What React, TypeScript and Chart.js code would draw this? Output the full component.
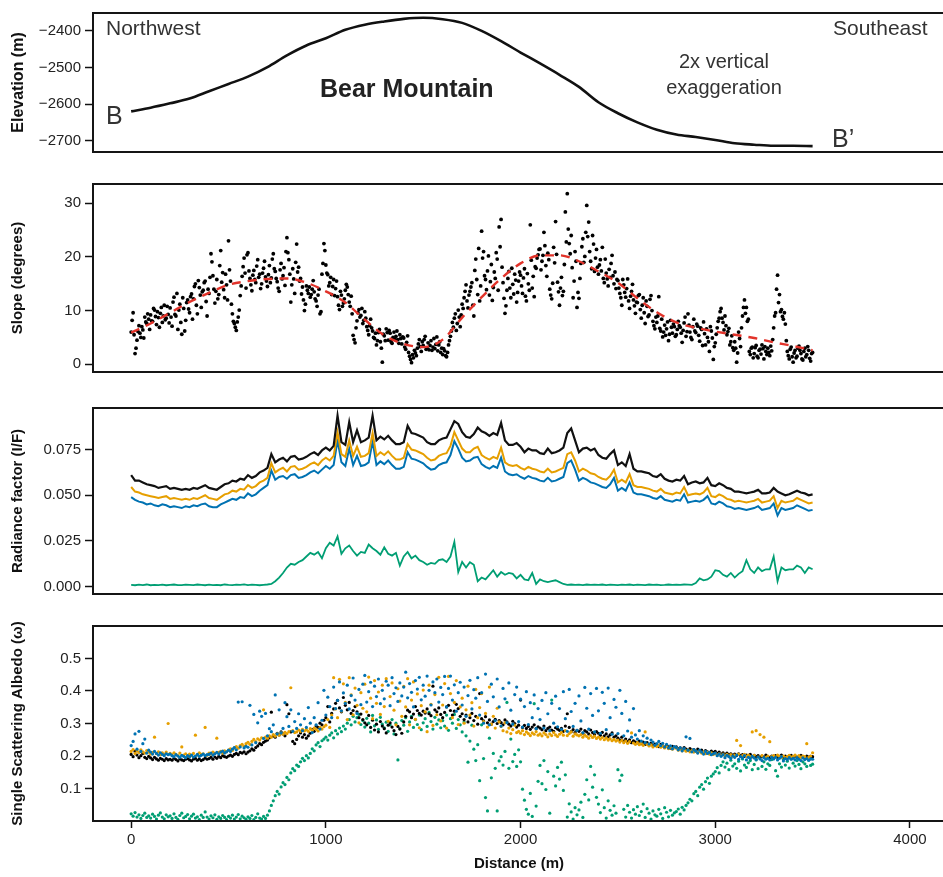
import React, { useEffect, useRef } from "react";
import { Chart, registerables } from "chart.js";
Chart.register(...registerables);

const FONT = "'Liberation Sans', Arial, Helvetica, sans-serif";

// ---------- DATA ----------
const X_MIN = -196;
const X_MAX = 4180;
const distanceTicks = [0, 1000, 2000, 3000, 4000];

// Elevation profile, one value every 100 m (0..3500 m)
const ELEV_STEP_M = 100;
const elevation = [
  -2620, -2610, -2598, -2585, -2565, -2545, -2525, -2499, -2467, -2440,
  -2420, -2397, -2383, -2374, -2367, -2364, -2368, -2378, -2400, -2428,
  -2459, -2489, -2520, -2553, -2595, -2625, -2650, -2670, -2683, -2690,
  -2698, -2707, -2711, -2714, -2714, -2715,
];
const elevationTicks = [-2700, -2600, -2500, -2400];

// Slope samples at 0, 10, 20 ... m
const SLOPE_STEP_M = 10;
const slope = [
  6.0, 9.6, 2.0, 4.5, 7.2, 5.0, 6.4, 8.8, 7.6, 8.4,
  9.2, 8.0, 10.1, 7.4, 8.7, 9.5, 7.8, 11.0, 8.6, 9.3,
  10.5, 7.1, 12.5, 9.0, 6.5, 11.2, 5.6, 10.4, 8.2, 12.0,
  9.6, 13.1, 12.2, 15.0, 9.4, 14.3, 10.6, 13.8, 15.5, 9.0,
  13.2, 20.6, 16.5, 11.4, 15.8, 13.0, 21.2, 17.1, 12.4, 14.8,
  23.0, 15.5, 9.4, 7.6, 6.3, 8.8, 12.8, 16.4, 19.8, 14.2,
  20.8, 16.0, 13.7, 17.5, 15.2, 19.5, 16.8, 15.0, 17.9, 16.3,
  14.5, 18.4, 16.1, 20.6, 17.3, 15.4, 13.6, 18.8, 16.5, 14.7,
  23.6, 19.5, 11.6, 17.8, 13.2, 22.4, 18.1, 16.0, 14.4, 10.0,
  14.6, 13.2, 12.5, 14.0, 13.5, 11.8, 12.9, 9.4, 16.8, 22.5,
  18.5, 16.7, 15.2, 13.0, 15.8, 14.1, 12.6, 10.2, 12.9, 11.4,
  13.8, 14.4, 11.6, 12.7, 5.4, 4.0, 8.1, 10.2, 9.1, 7.6,
  9.8, 7.0, 5.5, 8.4, 6.2, 4.8, 3.6, 5.9, 4.2, 0.4,
  5.3, 6.6, 4.5, 5.8, 3.9, 6.0, 5.2, 4.6, 5.5, 3.8,
  4.9, 2.8, 5.3, 1.5, 0.3, 1.2, 2.1, 3.0, 4.6, 2.4,
  3.5, 5.2, 3.0, 2.7, 4.4, 3.2, 2.9, 5.1, 3.6, 2.2,
  1.8, 2.5, 1.4, 3.6, 5.2, 7.8, 8.6, 6.3, 10.1, 7.0,
  11.2, 12.4, 14.8, 10.5, 13.6, 15.2, 9.0, 19.6, 13.0, 11.8,
  24.8, 21.0, 15.8, 17.4, 12.9, 18.6, 14.3, 16.0, 19.6, 25.6,
  27.0, 15.2, 9.5, 13.8, 17.3, 12.4, 14.9, 16.8, 11.6, 15.5,
  16.6, 13.2, 17.8, 11.8, 15.0, 26.0, 14.2, 12.6, 17.9, 20.4,
  21.5, 19.2, 24.6, 18.4, 20.7, 14.0, 12.2, 21.8, 26.6, 15.3,
  11.0, 16.2, 13.6, 28.4, 31.8, 22.5, 24.0, 12.4, 21.0, 10.6,
  12.3, 18.8, 23.4, 20.1, 29.6, 26.5, 19.2, 24.0, 17.3, 21.4,
  16.8, 19.5, 21.8, 15.2, 17.0, 14.6, 16.2, 20.3, 15.0, 14.1,
  15.6, 13.2, 11.0, 14.8, 12.5, 15.9, 10.4, 13.6, 12.0, 9.5,
  11.5, 13.0, 8.6, 12.4, 7.6, 10.8, 9.2, 12.8, 8.0, 6.6,
  7.8, 12.6, 6.2, 5.1, 7.3, 6.6, 4.4, 8.2, 5.8, 7.0,
  5.5, 8.0, 6.9, 4.1, 7.7, 5.2, 9.4, 6.0, 4.6, 8.4,
  5.9, 7.1, 4.3, 6.5, 7.9, 3.6, 5.0, 2.4, 6.2, 0.9,
  4.0, 6.8, 8.6, 10.4, 7.8, 9.0, 5.5, 6.7, 4.2, 3.1,
  4.2, 0.4, 6.0, 3.3, 9.0, 12.0, 10.6, 8.4, 1.8, 3.2,
  2.0, 3.5, 1.2, 2.8, 3.6, 1.0, 2.4, 3.0, 1.6, 2.5,
  6.8, 9.6, 16.6, 13.0, 10.2, 8.4, 7.5, 2.4, 1.0, 3.2,
  0.4, 2.6, 1.5, 3.4, 2.0, 0.8, 3.0, 1.8, 2.6, 0.6,
  2.2,
];
// Slope samples at 5, 15, 25 ... m
const SLOPE_B_OFFSET_M = 5;
const slopeB = [
  8.2, 5.5, 3.0, 6.1, 5.8, 7.0, 4.9, 7.9, 9.4, 6.5,
  8.1, 10.4, 8.9, 9.8, 6.9, 10.6, 9.0, 8.3, 10.8, 7.7,
  8.8, 11.6, 9.3, 13.2, 10.1, 7.8, 12.4, 6.2, 11.5, 10.3,
  12.6, 8.4, 14.5, 11.0, 15.6, 12.9, 13.5, 15.2, 11.7, 14.0,
  16.2, 19.1, 14.0, 13.6, 12.2, 18.4, 15.3, 13.9, 16.8, 12.0,
  17.6, 11.2, 8.0, 6.9, 7.9, 10.1, 14.6, 18.2, 17.0, 20.4,
  17.4, 14.8, 16.6, 15.8, 18.3, 16.2, 14.1, 17.0, 19.2, 15.5,
  16.7, 15.2, 19.6, 17.8, 16.0, 14.2, 17.6, 15.9, 18.0, 21.0,
  20.8, 16.8, 14.8, 15.9, 19.0, 17.2, 15.5, 13.1, 12.0, 11.2,
  13.8, 14.4, 13.0, 15.6, 12.2, 10.8, 14.0, 9.8, 18.8, 21.2,
  17.0, 14.6, 16.2, 14.5, 12.8, 15.5, 11.0, 13.6, 10.8, 12.2,
  14.9, 13.0, 10.8, 9.4, 4.6, 6.8, 9.6, 8.8, 10.4, 8.2,
  8.6, 6.3, 7.2, 6.8, 5.0, 5.8, 4.4, 6.5, 3.0, 5.6,
  4.4, 5.9, 6.3, 4.2, 5.0, 4.7, 6.2, 3.9, 4.8, 5.1,
  3.2, 4.1, 2.2, 0.9, 1.8, 2.6, 1.6, 3.8, 3.3, 4.2,
  4.6, 2.8, 4.0, 3.5, 2.6, 4.8, 3.7, 2.5, 4.2, 3.0,
  2.9, 1.6, 2.2, 4.4, 6.2, 6.9, 9.4, 7.6, 8.8, 9.2,
  10.4, 13.6, 11.8, 12.9, 14.4, 11.0, 17.5, 15.8, 21.6, 14.6,
  19.8, 16.5, 13.9, 20.2, 15.4, 11.9, 17.2, 20.8, 13.8, 21.9,
  18.1, 12.3, 10.9, 16.0, 14.2, 17.9, 13.1, 15.7, 13.4, 17.2,
  14.6, 16.1, 12.7, 16.9, 13.8, 19.4, 16.4, 18.2, 19.8, 21.4,
  17.6, 20.3, 22.1, 16.4, 19.5, 12.9, 15.1, 18.9, 20.5, 13.5,
  14.2, 12.8, 18.6, 22.8, 25.2, 20.6, 18.0, 15.5, 19.2, 13.4,
  16.0, 21.9, 19.0, 24.6, 23.8, 21.0, 17.8, 22.4, 19.8, 18.1,
  18.5, 17.4, 16.0, 19.6, 15.9, 17.7, 18.8, 16.5, 17.2, 15.8,
  14.2, 12.4, 15.8, 13.4, 14.1, 11.8, 12.7, 14.9, 10.9, 11.6,
  12.8, 10.2, 11.0, 9.6, 11.8, 8.9, 12.1, 10.0, 7.2, 8.8,
  9.0, 6.7, 8.4, 6.0, 5.4, 7.9, 5.6, 6.9, 7.5, 5.2,
  6.5, 7.2, 5.8, 6.3, 8.8, 6.1, 7.3, 5.0, 7.0, 6.2,
  7.5, 5.4, 6.8, 3.5, 5.7, 6.6, 4.2, 7.0, 4.9, 3.3,
  5.6, 8.0, 9.8, 8.6, 6.4, 7.2, 6.1, 3.6, 5.3, 2.6,
  3.0, 2.1, 4.8, 6.8, 10.6, 9.5, 8.0, 2.4, 3.0, 1.2,
  3.1, 1.5, 2.6, 1.9, 2.9, 3.3, 1.8, 2.2, 3.4, 4.6,
  9.0, 14.0, 11.5, 9.8, 8.9, 9.6, 4.4, 1.6, 2.8, 1.4,
  2.1, 1.2, 3.0, 2.6, 1.0, 2.4, 1.4, 3.3, 1.1, 2.0,
];
// Smoothed slope trend, every 100 m
const TREND_STEP_M = 100;
const slopeTrend = [
  5.9, 7.6, 9.6, 11.6, 13.3, 14.8, 15.5, 15.9, 16.0, 15.2,
  13.6, 11.5, 8.3, 5.4, 3.8, 3.2, 4.6, 8.7, 12.5, 16.0,
  18.8, 20.3, 20.3, 19.2, 17.3, 15.2, 12.3, 9.7, 7.8, 6.8,
  6.1, 5.5, 4.9, 4.1, 3.4, 2.6,
];
const slopeTicks = [0, 10, 20, 30];

// Radiance factor, every 20 m
const RAD_STEP_M = 20;
const radianceBlack = [
  0.061, 0.058, 0.058, 0.057, 0.056, 0.0555, 0.055, 0.054, 0.0545, 0.055,
  0.0535, 0.054, 0.0535, 0.053, 0.0535, 0.053, 0.054, 0.0535, 0.0545, 0.0555,
  0.054, 0.0535, 0.053, 0.0545, 0.056, 0.0565, 0.058, 0.0575, 0.059, 0.0585,
  0.061, 0.0595, 0.0605, 0.0625, 0.0635, 0.065, 0.0725, 0.068, 0.0695, 0.0705,
  0.0685, 0.071, 0.0715, 0.0695, 0.07, 0.071, 0.0725, 0.0735, 0.072, 0.0745,
  0.076, 0.0745, 0.077, 0.0935, 0.079, 0.0775, 0.09, 0.079, 0.0855, 0.079,
  0.08, 0.0815, 0.0935, 0.08, 0.082, 0.0805, 0.0825, 0.08, 0.078, 0.078,
  0.079, 0.088, 0.084, 0.0835, 0.0825, 0.0815, 0.079, 0.078, 0.078, 0.08,
  0.081, 0.0815, 0.086, 0.0905, 0.089, 0.0845, 0.082, 0.0814, 0.0835, 0.087,
  0.085, 0.084, 0.0825, 0.084, 0.083, 0.0895, 0.08, 0.0775, 0.0775, 0.0785,
  0.0765, 0.0735, 0.0755, 0.0745, 0.0745, 0.073, 0.0725, 0.0755, 0.073, 0.0735,
  0.0745, 0.076, 0.084, 0.0865, 0.08, 0.0735, 0.0755, 0.076, 0.0745, 0.0755,
  0.072, 0.0705, 0.07, 0.0725, 0.0745, 0.0665, 0.068, 0.066, 0.0725, 0.0645,
  0.063, 0.063, 0.0625, 0.062, 0.0605, 0.06, 0.0615, 0.059, 0.058, 0.0575,
  0.0585, 0.058, 0.0605, 0.056, 0.057, 0.0575, 0.0565, 0.057, 0.0595, 0.0555,
  0.055, 0.0565, 0.0555, 0.054, 0.0535, 0.052, 0.052, 0.0515, 0.051, 0.0515,
  0.052, 0.053, 0.051, 0.051, 0.0515, 0.054, 0.052, 0.051, 0.05, 0.0505,
  0.0515, 0.0525, 0.0515, 0.051, 0.05, 0.0505,
];
const radianceOrange = [
  0.0545, 0.052, 0.0515, 0.0505, 0.05, 0.0495, 0.049, 0.0485, 0.049, 0.0495,
  0.048, 0.0485, 0.048, 0.0475, 0.048, 0.0475, 0.0485, 0.048, 0.049, 0.05,
  0.0485, 0.048, 0.0475, 0.049, 0.0505, 0.051, 0.0525, 0.052, 0.0535, 0.053,
  0.0555, 0.054, 0.055, 0.057, 0.058, 0.0595, 0.0675, 0.0625, 0.064, 0.065,
  0.063, 0.0655, 0.066, 0.064, 0.0645, 0.0655, 0.067, 0.068, 0.0665, 0.069,
  0.0705, 0.069, 0.0715, 0.0845, 0.0725, 0.071, 0.08, 0.0715, 0.0765, 0.071,
  0.0715, 0.073, 0.084, 0.0715, 0.0735, 0.072, 0.074, 0.0715, 0.0695, 0.0695,
  0.0705, 0.078, 0.075, 0.0745, 0.0735, 0.0725, 0.0705, 0.069, 0.0695, 0.0715,
  0.0725, 0.073, 0.077, 0.0845, 0.08, 0.0755, 0.0735, 0.0735, 0.0755, 0.0765,
  0.072, 0.0705, 0.0695, 0.071, 0.07, 0.076, 0.068, 0.0665, 0.066, 0.0665,
  0.065, 0.064, 0.0655, 0.0645, 0.064, 0.063, 0.0625, 0.0645, 0.0625, 0.063,
  0.064, 0.065, 0.0725, 0.0735, 0.069, 0.063, 0.0645, 0.0635, 0.062, 0.0615,
  0.06, 0.059, 0.0585, 0.0605, 0.064, 0.057, 0.0585, 0.057, 0.0615, 0.0555,
  0.0545, 0.0545, 0.054, 0.0535, 0.0525, 0.052, 0.0535, 0.0515, 0.051, 0.0505,
  0.0515, 0.051, 0.0545, 0.05, 0.0505, 0.051, 0.0505, 0.0515, 0.054, 0.0495,
  0.049, 0.0505, 0.0495, 0.048, 0.0475, 0.0465, 0.047, 0.0465, 0.046, 0.0465,
  0.047, 0.048, 0.046, 0.0465, 0.047, 0.0495, 0.043, 0.047, 0.046, 0.0465,
  0.047, 0.0485, 0.0475, 0.0465, 0.0455, 0.046,
];
const radianceBlue = [
  0.049, 0.0475, 0.0465, 0.046, 0.045, 0.0455, 0.0445, 0.044, 0.045, 0.0445,
  0.0435, 0.044, 0.0435, 0.043, 0.044, 0.0435, 0.0445, 0.044, 0.045, 0.0455,
  0.044, 0.0435, 0.0435, 0.045, 0.046, 0.047, 0.048, 0.0475, 0.049, 0.0485,
  0.051, 0.0495, 0.0505, 0.0525, 0.054, 0.0555, 0.0635, 0.0585, 0.06, 0.0605,
  0.059, 0.061, 0.0615, 0.0595, 0.06, 0.061, 0.0625, 0.0635, 0.062, 0.064,
  0.066, 0.0645, 0.0665, 0.08, 0.068, 0.066, 0.0755, 0.0665, 0.0715, 0.066,
  0.0665, 0.068, 0.0795, 0.0665, 0.0685, 0.067, 0.069, 0.0665, 0.0645, 0.0645,
  0.0655, 0.0735, 0.07, 0.0695, 0.0685, 0.0675, 0.0655, 0.064, 0.0645, 0.0665,
  0.0675, 0.068, 0.072, 0.0795, 0.0755, 0.0705, 0.0685, 0.069, 0.0705, 0.071,
  0.067, 0.0655, 0.0645, 0.066, 0.065, 0.0705, 0.063, 0.0615, 0.061, 0.0615,
  0.06, 0.059, 0.0605, 0.0595, 0.059, 0.058, 0.0575, 0.0595, 0.0575, 0.058,
  0.059, 0.06, 0.0675, 0.069, 0.064, 0.058, 0.0595, 0.0585, 0.057, 0.0565,
  0.0555, 0.0545, 0.054, 0.056, 0.0595, 0.0525, 0.054, 0.0525, 0.057, 0.0515,
  0.0505, 0.0505, 0.05, 0.0495, 0.0485, 0.048, 0.0495, 0.0475, 0.047, 0.0465,
  0.0475, 0.047, 0.0505, 0.046, 0.0465, 0.047, 0.0465, 0.0475, 0.0495, 0.0455,
  0.045, 0.0465, 0.0455, 0.044, 0.0435, 0.0425, 0.043, 0.0425, 0.042, 0.0425,
  0.043, 0.044, 0.042, 0.0425, 0.043, 0.0455, 0.039, 0.043, 0.042, 0.0425,
  0.043, 0.0445, 0.0435, 0.0425, 0.0415, 0.042,
];
const radianceGreen = [
  0.001, 0.0008, 0.0011, 0.0009, 0.0012, 0.0008, 0.001, 0.0009, 0.0011, 0.0008,
  0.001, 0.0012, 0.0009, 0.0008, 0.0011, 0.001, 0.0009, 0.0012, 0.001, 0.0008,
  0.0011, 0.0009, 0.001, 0.0008, 0.0012, 0.001, 0.0009, 0.0011, 0.001, 0.0013,
  0.0009, 0.0011, 0.001, 0.0008, 0.001, 0.0012, 0.0015, 0.003, 0.005, 0.0075,
  0.0105, 0.0125, 0.012, 0.0135, 0.0145, 0.0165, 0.0185, 0.0175, 0.019, 0.0155,
  0.021, 0.024, 0.0225, 0.0275, 0.018, 0.021, 0.0225, 0.0195, 0.017, 0.019,
  0.0185, 0.023, 0.021, 0.0195, 0.0175, 0.0215, 0.018, 0.017, 0.0185, 0.0115,
  0.0165, 0.019, 0.0155, 0.017, 0.0145, 0.0135, 0.012, 0.013, 0.0125, 0.0145,
  0.015, 0.0135, 0.0165, 0.0245, 0.008, 0.0135, 0.0105, 0.0134, 0.012, 0.003,
  0.005, 0.004, 0.0065, 0.009, 0.0055, 0.008, 0.0065, 0.0075, 0.007, 0.0045,
  0.0065, 0.004, 0.0035, 0.0075, 0.0015, 0.004, 0.003, 0.0025, 0.003, 0.0035,
  0.0025, 0.0015, 0.001, 0.0012, 0.001, 0.0011, 0.0009, 0.0012, 0.001, 0.0011,
  0.001, 0.0012, 0.0009, 0.0011, 0.001, 0.0009, 0.0011, 0.001, 0.0012, 0.0009,
  0.0011, 0.001, 0.0009, 0.0012, 0.001, 0.0011, 0.0009, 0.001, 0.0012, 0.001,
  0.0011, 0.001, 0.0012, 0.0011, 0.001, 0.002, 0.0045, 0.0035, 0.004, 0.0055,
  0.009, 0.0085, 0.0065, 0.0055, 0.0075, 0.005, 0.007, 0.0085, 0.0145, 0.0095,
  0.0075, 0.0105, 0.0085, 0.0095, 0.0095, 0.0165, 0.003, 0.0105, 0.009, 0.0095,
  0.0095, 0.0115, 0.0105, 0.0075, 0.0105, 0.0095,
];
const radianceTicks = [0, 0.025, 0.05, 0.075];

// Single scattering albedo, every 10 m
const ALB_STEP_M = 10;
const albedoBlack = [
  0.205, 0.198, 0.214, 0.203, 0.195, 0.201, 0.208, 0.196, 0.192, 0.199,
  0.194, 0.189, 0.196, 0.191, 0.187, 0.193, 0.19, 0.186, 0.192, 0.188,
  0.19, 0.187, 0.193, 0.189, 0.185, 0.191, 0.188, 0.186, 0.19, 0.192,
  0.188, 0.185, 0.19, 0.193, 0.187, 0.191, 0.186, 0.189, 0.194, 0.19,
  0.192, 0.196, 0.19, 0.197, 0.193, 0.199, 0.195, 0.201, 0.198, 0.196,
  0.2, 0.203, 0.199, 0.205, 0.208, 0.204, 0.211, 0.209, 0.213, 0.207,
  0.212, 0.216, 0.222, 0.218, 0.226, 0.231, 0.238, 0.235, 0.242, 0.246,
  0.249, 0.256, 0.335, 0.262, 0.258, 0.27, 0.265, 0.274, 0.268, 0.262,
  0.358, 0.33, 0.274, 0.245, 0.238, 0.251, 0.262, 0.271, 0.258, 0.266,
  0.255, 0.262, 0.27, 0.281, 0.276, 0.292, 0.288, 0.301, 0.296, 0.31,
  0.318, 0.352, 0.305, 0.331, 0.345, 0.362, 0.371, 0.348, 0.336, 0.38,
  0.356, 0.342, 0.365, 0.331, 0.34, 0.352, 0.336, 0.318, 0.329, 0.312,
  0.302, 0.296, 0.325, 0.288, 0.31, 0.28, 0.298, 0.274, 0.306, 0.292,
  0.284, 0.271, 0.295, 0.302, 0.289, 0.278, 0.266, 0.291, 0.283, 0.27,
  0.305, 0.322, 0.341, 0.336, 0.318, 0.329, 0.352, 0.34, 0.331, 0.326,
  0.338, 0.332, 0.345, 0.33, 0.324, 0.415, 0.342, 0.336, 0.348, 0.328,
  0.318, 0.334, 0.351, 0.356, 0.34, 0.326, 0.338, 0.359, 0.346, 0.322,
  0.33, 0.312, 0.326, 0.305, 0.318, 0.331, 0.309, 0.322, 0.298, 0.392,
  0.315, 0.308, 0.321, 0.302, 0.311, 0.298, 0.306, 0.313, 0.3, 0.309,
  0.303, 0.296, 0.311, 0.305, 0.298, 0.292, 0.307, 0.3, 0.289, 0.295,
  0.372, 0.288, 0.294, 0.285, 0.291, 0.282, 0.289, 0.296, 0.284, 0.29,
  0.286, 0.281, 0.292, 0.278, 0.285, 0.289, 0.28, 0.276, 0.287, 0.283,
  0.279, 0.285, 0.276, 0.292, 0.33, 0.288, 0.275, 0.281, 0.272, 0.279,
  0.276, 0.283, 0.27, 0.278, 0.274, 0.268, 0.28, 0.272, 0.266, 0.275,
  0.27, 0.264, 0.273, 0.262, 0.268, 0.259, 0.265, 0.271, 0.258, 0.262,
  0.255, 0.249, 0.258, 0.246, 0.252, 0.244, 0.25, 0.241, 0.247, 0.243,
  0.24, 0.246, 0.238, 0.243, 0.236, 0.241, 0.234, 0.239, 0.232, 0.237,
  0.235, 0.229, 0.236, 0.231, 0.227, 0.233, 0.228, 0.224, 0.23, 0.226,
  0.228, 0.222, 0.225, 0.219, 0.226, 0.221, 0.217, 0.223, 0.218, 0.22,
  0.216, 0.221, 0.214, 0.218, 0.212, 0.217, 0.213, 0.209, 0.215, 0.211,
  0.214, 0.208, 0.212, 0.206, 0.21, 0.205, 0.209, 0.204, 0.207, 0.203,
  0.206, 0.202, 0.207, 0.201, 0.204, 0.199, 0.203, 0.2, 0.205, 0.198,
  0.202, 0.198, 0.201, 0.196, 0.2, 0.197, 0.203, 0.199, 0.195, 0.2,
  0.198, 0.201, 0.196, 0.199, 0.203, 0.197, 0.2, 0.195, 0.198, 0.202,
  0.197, 0.2, 0.196, 0.199, 0.202, 0.198, 0.195, 0.2, 0.197, 0.199,
  0.198,
];
const albedoBlue = [
  0.232, 0.245, 0.268, 0.221, 0.276, 0.214, 0.238, 0.252, 0.209, 0.218,
  0.212, 0.206, 0.214, 0.208, 0.203, 0.21, 0.205, 0.201, 0.207, 0.204,
  0.206, 0.201, 0.198, 0.204, 0.2, 0.196, 0.202, 0.199, 0.195, 0.201,
  0.198, 0.203, 0.197, 0.2, 0.205, 0.199, 0.202, 0.206, 0.201, 0.204,
  0.205, 0.209, 0.203, 0.207, 0.211, 0.206, 0.212, 0.215, 0.209, 0.213,
  0.218, 0.214, 0.221, 0.226, 0.219, 0.366, 0.228, 0.367, 0.225, 0.23,
  0.227, 0.356, 0.234, 0.328, 0.241, 0.302, 0.338, 0.322, 0.254, 0.331,
  0.262, 0.284, 0.275, 0.296, 0.388, 0.268, 0.342, 0.271, 0.285, 0.364,
  0.321, 0.291, 0.342, 0.276, 0.306, 0.285, 0.33, 0.296, 0.278, 0.315,
  0.288, 0.349, 0.301, 0.272, 0.318, 0.296, 0.364, 0.283, 0.31, 0.402,
  0.326, 0.381, 0.352, 0.318, 0.412, 0.346, 0.371, 0.428, 0.339, 0.394,
  0.362, 0.418, 0.345, 0.386, 0.44, 0.372, 0.331, 0.405, 0.358, 0.421,
  0.448, 0.366, 0.398, 0.427, 0.352, 0.415, 0.383, 0.437, 0.361, 0.402,
  0.376, 0.43, 0.418, 0.355, 0.441, 0.392, 0.41, 0.368, 0.425, 0.385,
  0.412, 0.458, 0.379, 0.423, 0.396, 0.351, 0.432, 0.406, 0.442, 0.373,
  0.418, 0.384, 0.446, 0.402, 0.357, 0.428, 0.395, 0.437, 0.366, 0.411,
  0.389, 0.445, 0.351, 0.408, 0.446, 0.372, 0.419, 0.338, 0.395, 0.427,
  0.357, 0.412, 0.322, 0.386, 0.433, 0.345, 0.404, 0.378, 0.441, 0.326,
  0.395, 0.301, 0.452, 0.368, 0.296, 0.421, 0.382, 0.309, 0.437, 0.351,
  0.292, 0.408, 0.376, 0.303, 0.425, 0.341, 0.298, 0.389, 0.412, 0.306,
  0.375, 0.289, 0.352, 0.398, 0.297, 0.364, 0.318, 0.388, 0.284, 0.346,
  0.312, 0.371, 0.286, 0.395, 0.33, 0.278, 0.362, 0.301, 0.384, 0.29,
  0.346, 0.282, 0.398, 0.315, 0.276, 0.405, 0.337, 0.291, 0.362, 0.279,
  0.385, 0.308, 0.272, 0.411, 0.347, 0.283, 0.392, 0.325, 0.274, 0.408,
  0.339, 0.27, 0.396, 0.362, 0.281, 0.409, 0.318, 0.267, 0.374, 0.35,
  0.269, 0.402, 0.331, 0.262, 0.368, 0.277, 0.311, 0.258, 0.346, 0.265,
  0.252, 0.278, 0.246, 0.262, 0.241, 0.255, 0.237, 0.249, 0.243, 0.233,
  0.238, 0.245, 0.232, 0.239, 0.228, 0.236, 0.225, 0.231, 0.222, 0.229,
  0.226, 0.219, 0.225, 0.216, 0.223, 0.259, 0.218, 0.254, 0.213, 0.22,
  0.215, 0.209, 0.218, 0.212, 0.206, 0.214, 0.208, 0.211, 0.204, 0.207,
  0.209, 0.201, 0.206, 0.199, 0.204, 0.195, 0.202, 0.198, 0.193, 0.2,
  0.196, 0.203, 0.19, 0.198, 0.194, 0.201, 0.188, 0.196, 0.192, 0.199,
  0.194, 0.189, 0.197, 0.191, 0.186, 0.195, 0.19, 0.193, 0.188, 0.196,
  0.191, 0.196, 0.188, 0.193, 0.198, 0.185, 0.192, 0.189, 0.195, 0.19,
  0.193, 0.188, 0.195, 0.19, 0.186, 0.194, 0.189, 0.192, 0.187, 0.191,
  0.19,
];
const albedoOrange = [
  0.214, 0.22, 0.208, 0.216, 0.211, 0.219, 0.213, 0.209, 0.217, 0.212,
  0.206, 0.211, 0.258, 0.207, 0.213, 0.204, 0.21, 0.206, 0.212, 0.3,
  0.208, 0.204, 0.21, 0.205, 0.201, 0.209, 0.228, 0.203, 0.207, 0.2,
  0.206, 0.201, 0.208, 0.264, 0.203, 0.21, 0.205, 0.207, 0.288, 0.202,
  0.209, 0.206, 0.212, 0.208, 0.255, 0.211, 0.214, 0.209, 0.216, 0.213,
  0.218, 0.222, 0.217, 0.225, 0.229, 0.224, 0.232, 0.236, 0.23, 0.238,
  0.242, 0.236, 0.245, 0.251, 0.244, 0.253, 0.249, 0.256, 0.342, 0.258,
  0.255, 0.262, 0.258, 0.266, 0.261, 0.268, 0.264, 0.271, 0.267, 0.273,
  0.269, 0.275, 0.41, 0.278, 0.272, 0.274, 0.28, 0.276, 0.282, 0.277,
  0.281, 0.276, 0.284, 0.279, 0.286, 0.282, 0.277, 0.288, 0.283, 0.29,
  0.295, 0.312, 0.288, 0.326, 0.441, 0.345, 0.318, 0.436, 0.338, 0.422,
  0.365, 0.312, 0.441, 0.388, 0.327, 0.409, 0.356, 0.302, 0.395, 0.347,
  0.421, 0.336, 0.443, 0.378, 0.315, 0.432, 0.362, 0.397, 0.328, 0.418,
  0.352, 0.438, 0.307, 0.383, 0.425, 0.341, 0.296, 0.407, 0.369, 0.322,
  0.414, 0.351, 0.438, 0.296, 0.372, 0.428, 0.313, 0.391, 0.287, 0.355,
  0.403, 0.336, 0.275, 0.418, 0.359, 0.294, 0.389, 0.327, 0.442, 0.308,
  0.357, 0.423, 0.286, 0.445, 0.392, 0.318, 0.365, 0.432, 0.297, 0.351,
  0.378, 0.301, 0.342, 0.415, 0.326, 0.364, 0.292, 0.405, 0.318, 0.349,
  0.392, 0.306, 0.331, 0.289, 0.412, 0.298, 0.322, 0.286, 0.347, 0.305,
  0.291, 0.278, 0.302, 0.274, 0.286, 0.269, 0.281, 0.295, 0.272, 0.276,
  0.27, 0.278, 0.266, 0.274, 0.269, 0.263, 0.271, 0.267, 0.275, 0.264,
  0.268, 0.262, 0.271, 0.266, 0.259, 0.268, 0.263, 0.272, 0.265, 0.26,
  0.267, 0.272, 0.264, 0.278, 0.263, 0.269, 0.274, 0.261, 0.268, 0.265,
  0.262, 0.266, 0.258, 0.264, 0.26, 0.255, 0.263, 0.257, 0.261, 0.254,
  0.258, 0.252, 0.257, 0.25, 0.255, 0.249, 0.253, 0.247, 0.251, 0.246,
  0.249, 0.243, 0.248, 0.241, 0.246, 0.239, 0.244, 0.271, 0.24, 0.236,
  0.241, 0.235, 0.239, 0.233, 0.274, 0.236, 0.231, 0.234, 0.228, 0.232,
  0.229, 0.233, 0.227, 0.231, 0.225, 0.229, 0.223, 0.227, 0.221, 0.226,
  0.224, 0.218, 0.222, 0.216, 0.22, 0.215, 0.219, 0.213, 0.217, 0.212,
  0.216, 0.21, 0.214, 0.209, 0.213, 0.207, 0.211, 0.206, 0.21, 0.205,
  0.208, 0.203, 0.207, 0.202, 0.206, 0.201, 0.205, 0.2, 0.204, 0.199,
  0.203, 0.248, 0.206, 0.232, 0.201, 0.205, 0.199, 0.203, 0.198, 0.274,
  0.202, 0.278, 0.197, 0.266, 0.201, 0.258, 0.196, 0.2, 0.244, 0.198,
  0.201, 0.197, 0.203, 0.199, 0.196, 0.2, 0.195, 0.198, 0.202, 0.197,
  0.199, 0.203, 0.197, 0.201, 0.196, 0.2, 0.198, 0.238, 0.196, 0.2,
  0.21,
];
const albedoGreen = [
  0.022, 0.015, 0.026, 0.012, 0.019, 0.008, 0.017, 0.024, 0.011, 0.016,
  0.009, 0.021, 0.014, 0.006, 0.018, 0.025, 0.012, 0.007, 0.019, 0.013,
  0.016, 0.008, 0.022, 0.011, 0.005, 0.017, 0.024, 0.01, 0.014, 0.02,
  0.007, 0.015, 0.021, 0.009, 0.013, 0.004, 0.018, 0.011, 0.028, 0.012,
  0.006, 0.016, 0.01, 0.019, 0.005, 0.013, 0.008, 0.017, 0.011, 0.004,
  0.014, 0.009, 0.018, 0.006, 0.012, 0.02, 0.007, 0.015, 0.01, 0.005,
  0.013, 0.008, 0.017, 0.004, 0.011, 0.022, 0.009, 0.006, 0.014, 0.008,
  0.018, 0.031, 0.048, 0.062, 0.078, 0.091, 0.083, 0.105, 0.118, 0.112,
  0.134, 0.127, 0.148, 0.161, 0.155, 0.172, 0.168, 0.182, 0.193, 0.186,
  0.201, 0.194, 0.208, 0.222, 0.216, 0.234, 0.241, 0.229, 0.247, 0.252,
  0.258, 0.249, 0.264, 0.271, 0.256, 0.278, 0.268, 0.286, 0.275, 0.292,
  0.283, 0.301, 0.312, 0.296, 0.322, 0.305, 0.318, 0.328, 0.297, 0.309,
  0.289, 0.316, 0.301, 0.274, 0.325, 0.293, 0.311, 0.282, 0.319, 0.298,
  0.287, 0.304, 0.276, 0.296, 0.312, 0.268, 0.301, 0.188, 0.284, 0.309,
  0.295, 0.318, 0.276, 0.305, 0.322, 0.288, 0.312, 0.297, 0.326, 0.281,
  0.302, 0.315, 0.291, 0.334, 0.306, 0.283, 0.319, 0.298, 0.311, 0.287,
  0.309, 0.292, 0.326, 0.279, 0.315, 0.301, 0.328, 0.285, 0.312, 0.296,
  0.274, 0.305, 0.262, 0.181, 0.246, 0.295, 0.221, 0.186, 0.235, 0.124,
  0.296, 0.192, 0.072, 0.031, 0.255, 0.133, 0.208, 0.162, 0.031, 0.185,
  0.198, 0.172, 0.214, 0.365, 0.162, 0.252, 0.183, 0.205, 0.168, 0.219,
  0.182, 0.098, 0.064, 0.036, 0.021, 0.085, 0.014, 0.361, 0.046, 0.122,
  0.171, 0.115, 0.186, 0.097, 0.152, 0.024, 0.372, 0.138, 0.108, 0.165,
  0.129, 0.181, 0.094, 0.142, 0.012, 0.053, 0.028, 0.006, 0.041, 0.019,
  0.034, 0.058, 0.011, 0.082, 0.127, 0.065, 0.168, 0.104, 0.142, 0.073,
  0.052, 0.026, 0.096, 0.041, 0.009, 0.062, 0.033, 0.018, 0.047, 0.024,
  0.158, 0.124, 0.141, 0.036, 0.012, 0.048, 0.027, 0.009, 0.035, 0.021,
  0.044, 0.017, 0.029, 0.052, 0.011, 0.038, 0.024, 0.006, 0.031, 0.019,
  0.015, 0.036, 0.022, 0.008, 0.041, 0.027, 0.013, 0.033, 0.018, 0.025,
  0.029, 0.037, 0.021, 0.042, 0.034, 0.048, 0.056, 0.067, 0.062, 0.084,
  0.091, 0.078, 0.104, 0.112, 0.098, 0.121, 0.132, 0.116, 0.138, 0.145,
  0.152, 0.164, 0.148, 0.171, 0.182, 0.166, 0.178, 0.158, 0.187, 0.169,
  0.176, 0.162, 0.184, 0.154, 0.191, 0.172, 0.165, 0.179, 0.186, 0.158,
  0.174, 0.188, 0.161, 0.195, 0.168, 0.182, 0.159, 0.176, 0.171, 0.189,
  0.192, 0.155, 0.138, 0.176, 0.166, 0.189, 0.172, 0.184, 0.163, 0.191,
  0.178, 0.169, 0.186, 0.174, 0.161, 0.182, 0.176, 0.168, 0.187, 0.171,
  0.175,
];
const albedoTicks = [0.1, 0.2, 0.3, 0.4, 0.5];

// ---------- STYLE ----------
const C_BLACK = "#111111";
const C_ORANGE = "#E69F00";
const C_BLUE = "#0072B2";
const C_GREEN = "#009E73";
const C_RED = "#E2332A";

const toPoints = (vals: number[], step: number, offset = 0) =>
  vals.map((y, i) => ({ x: offset + i * step, y }));

const framePlugin = {
  id: "frame",
  afterDatasetsDraw(chart: any) {
    const { ctx, chartArea: a } = chart;
    ctx.save();
    ctx.strokeStyle = "#151515";
    ctx.lineWidth = 2;
    ctx.strokeRect(a.left, a.top, a.right - a.left, a.bottom - a.top);
    ctx.restore();
  },
};

const labelsPlugin = {
  id: "profileLabels",
  afterDraw(chart: any) {
    const { ctx } = chart;
    ctx.save();
    ctx.textBaseline = "middle";
    ctx.fillStyle = "#333";
    ctx.textAlign = "left";
    ctx.font = `21px ${FONT}`;
    ctx.fillText("Northwest", 106, 29);
    ctx.fillText("Southeast", 833, 29);
    ctx.font = `25px ${FONT}`;
    ctx.fillText("B", 106, 117);
    ctx.fillText("B\u2019", 832, 140);
    ctx.textAlign = "center";
    ctx.font = `20px ${FONT}`;
    ctx.fillText("2x vertical", 724, 62);
    ctx.fillText("exaggeration", 724, 88);
    ctx.textAlign = "left";
    ctx.fillStyle = "#222";
    ctx.font = `bold 25px ${FONT}`;
    ctx.fillText("Bear Mountain", 320, 90);
    ctx.restore();
  },
};

function makeOptions(p: any) {
  const xScale: any = {
    type: "linear",
    min: X_MIN,
    max: X_MAX,
    display: !!p.showX,
    afterBuildTicks: (s: any) => {
      s.ticks = distanceTicks.map((v) => ({ value: v }));
    },
    grid: { drawOnChartArea: false, drawTicks: true, tickLength: 7, tickColor: "#111", tickWidth: 1.5 },
    border: { display: false },
    ticks: {
      font: { family: FONT, size: 15 },
      color: "#222",
      padding: 3,
      maxRotation: 0,
      autoSkip: false,
      callback: (v: any) => String(v),
    },
    title: {
      display: true,
      text: "Distance (m)",
      font: { family: FONT, size: 15, weight: "bold" },
      color: "#111",
      padding: { top: 0, bottom: 4 },
    },
  };
  if (p.showX) {
    xScale.afterFit = (s: any) => {
      s.height = 56;
    };
  }
  return {
    animation: false,
    responsive: false,
    devicePixelRatio: 1,
    layout: { padding: { left: 0, right: 15, top: p.padTop, bottom: p.padBottom } },
    plugins: { legend: { display: false }, tooltip: { enabled: false } },
    elements: { point: { borderWidth: 0 } },
    scales: {
      x: xScale,
      y: {
        type: "linear",
        min: p.ymin,
        max: p.ymax,
        afterBuildTicks: (s: any) => {
          s.ticks = p.yTicks.map((v: number) => ({ value: v }));
        },
        afterFit: (s: any) => {
          s.width = 93;
        },
        grid: { drawOnChartArea: false, drawTicks: true, tickLength: 8, tickColor: "#111", tickWidth: 1.5 },
        border: { display: false },
        ticks: {
          font: { family: FONT, size: 15 },
          color: "#222",
          padding: 4,
          autoSkip: false,
          callback: p.yFmt,
        },
        title: {
          display: true,
          text: p.yTitle,
          font: { family: FONT, size: p.titleSize || 15, weight: "bold" },
          color: "#111",
          padding: { top: 9, bottom: 0 },
        },
      },
    },
  };
}

const PANELS = [
  { top: 0, height: 165 },
  { top: 170, height: 215 },
  { top: 395, height: 212 },
  { top: 612, height: 265 },
];

export default function App() {
  const r0 = useRef<HTMLCanvasElement>(null);
  const r1 = useRef<HTMLCanvasElement>(null);
  const r2 = useRef<HTMLCanvasElement>(null);
  const r3 = useRef<HTMLCanvasElement>(null);

  useEffect(() => {
    const charts: any[] = [];

    charts.push(
      new Chart(r0.current as any, {
        type: "line",
        data: {
          datasets: [
            {
              data: toPoints(elevation, ELEV_STEP_M),
              borderColor: C_BLACK,
              borderWidth: 2.6,
              pointRadius: 0,
              tension: 0.4,
              cubicInterpolationMode: "monotone",
            },
          ],
        },
        options: makeOptions({
          padTop: 8,
          padBottom: 8,
          ymin: -2731,
          ymax: -2351,
          yTicks: elevationTicks,
          yFmt: (v: any) => (v < 0 ? "\u2212" : "") + Math.abs(v),
          yTitle: "Elevation (m)",
          titleSize: 16,
        }) as any,
        plugins: [framePlugin, labelsPlugin],
      } as any)
    );

    charts.push(
      new Chart(r1.current as any, {
        type: "scatter",
        data: {
          datasets: [
            {
              type: "line",
              data: toPoints(slopeTrend, TREND_STEP_M),
              borderColor: C_RED,
              borderWidth: 2.4,
              borderDash: [9, 7],
              pointRadius: 0,
              tension: 0.4,
              cubicInterpolationMode: "monotone",
              order: 0,
            },
            {
              data: toPoints(slope, SLOPE_STEP_M).concat(toPoints(slopeB, SLOPE_STEP_M, SLOPE_B_OFFSET_M)),
              backgroundColor: "#000",
              pointRadius: 1.9,
              pointBorderWidth: 0,
              order: 1,
            },
          ],
        },
        options: makeOptions({
          padTop: 14,
          padBottom: 6,
          ymin: -1.44,
          ymax: 33.6,
          yTicks: slopeTicks,
          yFmt: (v: any) => String(v),
          yTitle: "Slope (degrees)",
        }) as any,
        plugins: [framePlugin],
      } as any)
    );

    const radLine = (vals: number[], color: string, w: number, order: number) => ({
      data: toPoints(vals, RAD_STEP_M),
      borderColor: color,
      borderWidth: w,
      pointRadius: 0,
      tension: 0,
      order,
    });
    charts.push(
      new Chart(r2.current as any, {
        type: "line",
        data: {
          datasets: [
            radLine(radianceBlack, C_BLACK, 2.2, 0),
            radLine(radianceOrange, C_ORANGE, 2, 1),
            radLine(radianceBlue, C_BLUE, 2, 2),
            radLine(radianceGreen, C_GREEN, 1.8, 3),
          ],
        },
        options: makeOptions({
          padTop: 12,
          padBottom: 5,
          ymin: -0.004,
          ymax: 0.0977,
          yTicks: radianceTicks,
          yFmt: (v: any) => Number(v).toFixed(3),
          yTitle: "Radiance factor (I/F)",
        }) as any,
        plugins: [framePlugin],
      } as any)
    );

    const albPts = (vals: number[], color: string, order: number) => ({
      data: toPoints(vals, ALB_STEP_M),
      backgroundColor: color,
      pointRadius: 1.6,
      pointBorderWidth: 0,
      order,
    });
    charts.push(
      new Chart(r3.current as any, {
        type: "scatter",
        data: {
          datasets: [
            albPts(albedoBlue, C_BLUE, 0),
            albPts(albedoOrange, C_ORANGE, 1),
            albPts(albedoBlack, "#000", 2),
            albPts(albedoGreen, C_GREEN, 3),
          ],
        },
        options: makeOptions({
          padTop: 14,
          padBottom: 0,
          showX: true,
          ymin: 0,
          ymax: 0.6,
          yTicks: albedoTicks,
          yFmt: (v: any) => Number(v).toFixed(1),
          yTitle: "Single Scattering Albedo (\u03c9)",
        }) as any,
        plugins: [framePlugin],
      } as any)
    );

    return () => {
      charts.forEach((c) => c.destroy());
    };
  }, []);

  const refs = [r0, r1, r2, r3];
  return (
    <div
      style={{
        position: "fixed",
        left: 0,
        top: 0,
        width: 943,
        height: 877,
        overflow: "hidden",
        background: "#fff",
      }}
    >
      {PANELS.map((p, i) => (
        <canvas
          key={i}
          ref={refs[i]}
          width={960}
          height={p.height}
          style={{ position: "absolute", left: 0, top: p.top, width: 960, height: p.height }}
        />
      ))}
    </div>
  );
}
